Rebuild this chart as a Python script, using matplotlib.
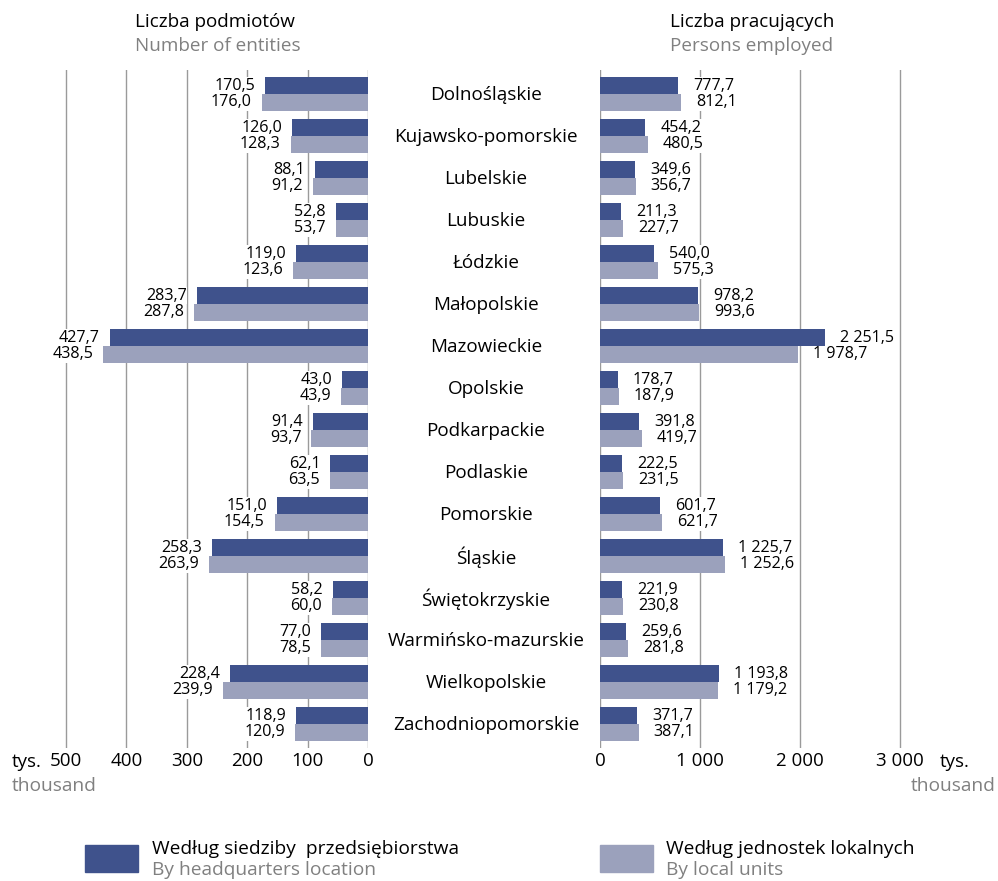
import matplotlib
matplotlib.use("Agg")
import matplotlib.pyplot as plt
from matplotlib.patches import Rectangle

plt.rcParams['font.family'] = ['Open Sans', 'DejaVu Sans']

regions = ["Dolnośląskie", "Kujawsko-pomorskie", "Lubelskie", "Lubuskie", "Łódzkie",
           "Małopolskie", "Mazowieckie", "Opolskie", "Podkarpackie", "Podlaskie",
           "Pomorskie", "Śląskie", "Świętokrzyskie", "Warmińsko-mazurskie",
           "Wielkopolskie", "Zachodniopomorskie"]
entities_hq = [170.5, 126.0, 88.1, 52.8, 119.0, 283.7, 427.7, 43.0, 91.4, 62.1,
               151.0, 258.3, 58.2, 77.0, 228.4, 118.9]
entities_local = [176.0, 128.3, 91.2, 53.7, 123.6, 287.8, 438.5, 43.9, 93.7, 63.5,
                  154.5, 263.9, 60.0, 78.5, 239.9, 120.9]
employed_hq = [777.7, 454.2, 349.6, 211.3, 540.0, 978.2, 2251.5, 178.7, 391.8, 222.5,
               601.7, 1225.7, 221.9, 259.6, 1193.8, 371.7]
employed_local = [812.1, 480.5, 356.7, 227.7, 575.3, 993.6, 1978.7, 187.9, 419.7, 231.5,
                  621.7, 1252.6, 230.8, 281.8, 1179.2, 387.1]
left_ticks = [0, 100, 200, 300, 400, 500]
left_ticklabels = ["0", "100", "200", "300", "400", "500"]
right_ticks = [0, 1000, 2000, 3000]
right_ticklabels = ["0", "1 000", "2 000", "3 000"]

DARK = "#3F528C"
LIGHT = "#9BA1BC"
GRID = "#9a9a9a"
GRAYTXT = "#808080"

W, H = 998, 881
fig = plt.figure(figsize=(W / 100, H / 100), dpi=100)

def fx(px):
    return px / W

def fy(py):
    return 1 - py / H

top_px, bot_px = 70, 748
scale_l = (368 - 66) / 500.0
l_left_px = 20
axL = fig.add_axes([fx(l_left_px), fy(bot_px), fx(368 - l_left_px), (bot_px - top_px) / H])
axL.set_xlim((368 - l_left_px) / scale_l, 0)
scale_r = 0.1
r_right_px = 935
axR = fig.add_axes([fx(600), fy(bot_px), fx(r_right_px - 600), (bot_px - top_px) / H])
axR.set_xlim(0, (r_right_px - 600) / scale_r)

n = len(regions)
ys = list(range(n))
bh = 0.405
for ax in (axL, axR):
    ax.set_ylim(15.571, -0.571)
    for s in ax.spines.values():
        s.set_visible(False)
    ax.set_yticks([])
    ax.tick_params(axis='x', length=0, pad=3, labelsize=13.5)

for t in left_ticks:
    axL.axvline(t, color=GRID, lw=1.0, zorder=0)
for t in right_ticks:
    axR.axvline(t, color=GRID, lw=1.0, zorder=0)

axL.barh([y - 0.2 for y in ys], entities_hq, height=bh, color=DARK, zorder=2)
axL.barh([y + 0.2 for y in ys], entities_local, height=bh, color=LIGHT, zorder=2)
axR.barh([y - 0.2 for y in ys], employed_hq, height=bh, color=DARK, zorder=2)
axR.barh([y + 0.2 for y in ys], employed_local, height=bh, color=LIGHT, zorder=2)

def fmt(v):
    return f"{v:,.1f}".replace(",", " ").replace(".", ",")

bbox = dict(facecolor="white", edgecolor="none", pad=0.6)
for i in ys:
    for v, dy in ((entities_hq[i], -0.2), (entities_local[i], 0.2)):
        axL.annotate(fmt(v), (v, i + dy), xytext=(-10, 0), textcoords="offset pixels",
                     ha="right", va="center", fontsize=11.6, zorder=3, bbox=bbox)
    for v, dy in ((employed_hq[i], -0.2), (employed_local[i], 0.2)):
        axR.annotate(fmt(v), (v, i + dy), xytext=(15, 0), textcoords="offset pixels",
                     ha="left", va="center", fontsize=11.6, zorder=3, bbox=bbox)
    fig.text(fx(486), fy(95 + 42 * i), regions[i], ha="center", va="center", fontsize=13.6)

axL.set_xticks(left_ticks)
axL.set_xticklabels(left_ticklabels)
axR.set_xticks(right_ticks)
axR.set_xticklabels(right_ticklabels)

hs = 13.6
fig.text(fx(135), fy(22), "Liczba podmiotów", ha="left", va="center", fontsize=hs)
fig.text(fx(135), fy(46), "Number of entities", ha="left", va="center", fontsize=hs, color=GRAYTXT)
fig.text(fx(670), fy(22), "Liczba pracujących", ha="left", va="center", fontsize=hs)
fig.text(fx(670), fy(46), "Persons employed", ha="left", va="center", fontsize=hs, color=GRAYTXT)

fig.text(fx(12), fy(762), "tys.", ha="left", va="center", fontsize=13.5)
fig.text(fx(12), fy(786), "thousand", ha="left", va="center", fontsize=13.8, color=GRAYTXT)
fig.text(fx(940), fy(762), "tys.", ha="left", va="center", fontsize=13.5)
fig.text(fx(996), fy(786), "thousand", ha="right", va="center", fontsize=13.8, color=GRAYTXT)

fig.patches.append(Rectangle((fx(85), fy(872)), fx(53), (872 - 845) / H,
                             transform=fig.transFigure, color=DARK))
fig.patches.append(Rectangle((fx(600), fy(872)), fx(53), (872 - 845) / H,
                             transform=fig.transFigure, color=LIGHT))
ls = 13.8
fig.text(fx(152), fy(849), "Według siedziby  przedsiębiorstwa", ha="left", va="center", fontsize=ls)
fig.text(fx(152), fy(870), "By headquarters location", ha="left", va="center", fontsize=ls, color=GRAYTXT)
fig.text(fx(666), fy(849), "Według jednostek lokalnych", ha="left", va="center", fontsize=ls)
fig.text(fx(666), fy(870), "By local units", ha="left", va="center", fontsize=ls, color=GRAYTXT)

fig.savefig("out.png", dpi=100)
